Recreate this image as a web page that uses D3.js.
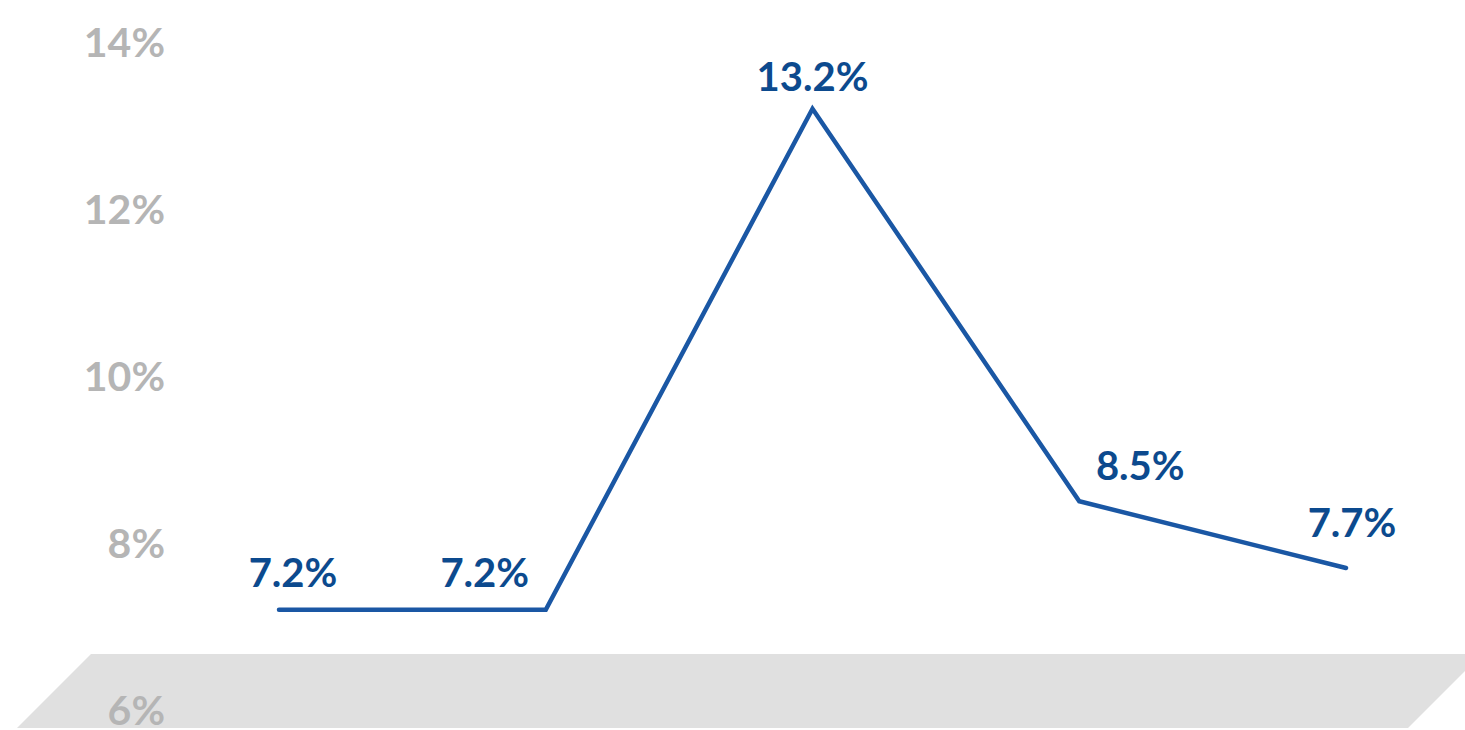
<!DOCTYPE html>
<html>
<head>
<meta charset="utf-8">
<script src="https://cdn.jsdelivr.net/npm/d3@7"></script>
<style>
  body { margin: 0; background: #fff; }
  text { font-family: Lato, "Noto Sans", sans-serif; font-weight: 700; }
</style>
</head>
<body>
<div id="plot"></div>
<script>
let categories = ['P1', 'P2', 'P3', 'P4', 'P5'];
let values = [7.2, 7.2, 13.2, 8.5, 7.7];
let tickValues = [6, 8, 10, 12, 14];
// label nudges (dx, dy) relative to each point
let labelNudge = [[14, -23], [-61, -23], [0, -18], [61, -21], [6, -31]];

let data = categories.map((c, i) => ({cat: c, value: values[i]}));

let svgWidth = 1465;
let svgHeight = 730;

let svg = d3.select('#plot')
            .append('svg')
                .attr('width', svgWidth)
                .attr('height', svgHeight);

let x = d3.scalePoint()
            .domain(categories)
            .range([279, 1346]);

let y = d3.scaleLinear()
            .domain([6, 14])
            .range([710, 42]);

// grey floor under the chart
let floorTop = 654, floorBottom = 728;
svg.append('path')
    .attr('d', `M91,${floorTop} L1482,${floorTop} L1408,${floorBottom} L17,${floorBottom} Z`)
    .attr('fill', '#e0e0e0');

let yAxis = d3.axisLeft(y)
                .tickValues(tickValues)
                .tickSize(0)
                .tickPadding(0)
                .tickFormat(d => d + '%');

let gy = svg.append('g')
    .attr('transform', 'translate(165,0)')
    .call(yAxis);
gy.select('.domain').remove();
gy.selectAll('text')
    .attr('fill', '#b5b5b5')
    .attr('font-size', 41)
    .attr('dy', '0.36em')
    .style('font-family', 'Lato, "Noto Sans", sans-serif');

let line = d3.line()
    .x(d => x(d.cat))
    .y(d => y(d.value));

svg.append('path')
    .datum(data)
    .attr('d', line)
    .attr('fill', 'none')
    .attr('stroke', '#1a57a4')
    .attr('stroke-width', 4.5)
    .attr('stroke-linecap', 'round')
    .attr('stroke-linejoin', 'miter');

svg.selectAll('.val')
    .data(data)
    .join('text')
        .attr('class', 'val')
        .attr('x', (d, i) => x(d.cat) + labelNudge[i][0])
        .attr('y', (d, i) => y(d.value) + labelNudge[i][1])
        .attr('text-anchor', 'middle')
        .attr('fill', '#0c4a8e')
        .attr('font-size', 40)
        .text(d => d3.format('.1f')(d.value) + '%');
</script>
</body>
</html>
